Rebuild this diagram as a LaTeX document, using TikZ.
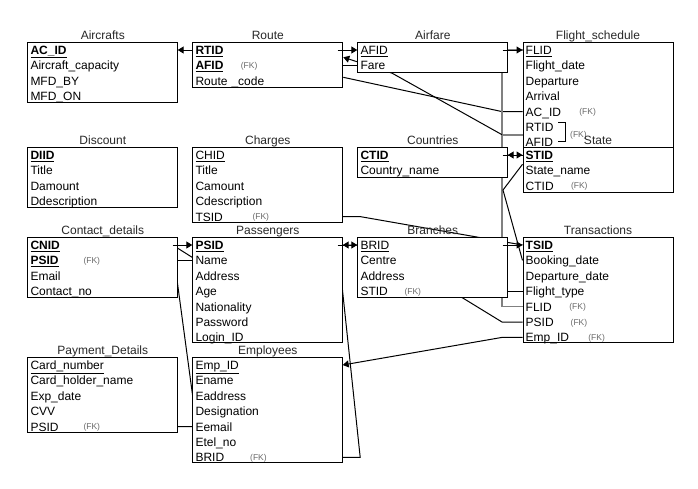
\documentclass[tikz,border=0pt]{standalone}
\usepackage{fontspec}
\setmainfont{Liberation Sans}
\usepackage{tikz}
\usetikzlibrary{positioning}
\usetikzlibrary{calc}
\usetikzlibrary{arrows.meta}

\pgfdeclarelayer{paper}
\pgfdeclarelayer{edges}
\pgfsetlayers{paper,edges,main}

\newcommand{\pk}[1]{\underline{\textbf{#1}}}
\newcommand{\pkn}[1]{\underline{#1}}

\begin{document}
\begin{tikzpicture}[
        x=1pt, y=-1pt,
        font=\fontsize{12}{14}\selectfont,
        box/.style={draw, fill=white, line width=1pt, anchor=north west, minimum width=150pt, inner sep=0pt},
        row/.style={anchor=north west, text width=144pt, inner xsep=3pt, inner ysep=0pt, minimum height=15pt, text height=10.5pt, text depth=1.5pt, align=left},
        title/.style={anchor=base, inner sep=0pt, text=titlegray},
        fk/.style={anchor=west, inner sep=0pt, font=\fontsize{8.5}{10}\selectfont, text=fkgray},
        rel/.style={line width=1pt, -{Triangle[length=6pt,width=7pt]}},
        link/.style={line width=1pt},
        graylink/.style={line width=1.6pt, draw=black!50},
    ]
        \definecolor{titlegray}{RGB}{40,40,40}
        \definecolor{fkgray}{RGB}{105,105,105}

        \useasboundingbox (0,0) rectangle (698,488);
        \begin{pgfonlayer}{paper}
        \fill[white] (0,0) rectangle (698,488);
        \end{pgfonlayer}

        % Aircrafts
        \node[box, minimum height=60pt] (aircrafts) at (27.3,42.3) {};
        \node[title] (aircrafts-title) at ($(aircrafts.north)+(0,-2.5)$) {Aircrafts};
        \node[row] (aircrafts-acid) at (27.3,42.3) {\pk{AC\_ID}};
        \node[row, below=0pt of aircrafts-acid] (aircrafts-cap) {Aircraft\_capacity};
        \node[row, below=0pt of aircrafts-cap] (aircrafts-by) {MFD\_BY};
        \node[row, below=0pt of aircrafts-by] (aircrafts-on) {MFD\_ON};

        % Route
        \node[box, minimum height=45pt] (route) at (192.3,42.3) {};
        \node[title] (route-title) at ($(route.north)+(0,-2.5)$) {Route};
        \node[row] (route-rtid) at (192.3,42.3) {\pk{RTID}};
        \node[row, below=0pt of route-rtid] (route-afid) {\pk{AFID}};
        \node[row, below=0pt of route-afid] (route-code) {Route \_code};
        \node[fk] (route-afid-fk) at ($(route-afid.west)+(48.4,0.8)$) {(FK)};

        % Airfare
        \node[box, minimum height=30pt] (airfare) at (357.3,42.3) {};
        \node[title] (airfare-title) at ($(airfare.north)+(0,-2.5)$) {Airfare};
        \node[row] (airfare-afid) at (357.3,42.3) {\pkn{AFID}};
        \node[row, below=0pt of airfare-afid] (airfare-fare) {Fare};

        % Flight_schedule
        \node[box, minimum height=105pt] (fs) at (522.5,42.3) {};
        \node[title] (fs-title) at ($(fs.north)+(0,-2.5)$) {Flight\_schedule};
        \node[row] (fs-flid) at (522.5,42.3) {\pkn{FLID}};
        \node[row, below=0pt of fs-flid] (fs-date) {Flight\_date};
        \node[row, below=0pt of fs-date] (fs-dep) {Departure};
        \node[row, below=0pt of fs-dep] (fs-arr) {Arrival};
        \node[row, below=0pt of fs-arr] (fs-acid) {AC\_ID};
        \node[row, below=0pt of fs-acid] (fs-rtid) {RTID};
        \node[row, below=0pt of fs-rtid] (fs-afid) {AFID};
        \node[fk] (fs-acid-fk) at ($(fs-acid.west)+(56.6,0.8)$) {(FK)};
        \draw[line width=1pt] ($(fs-rtid.west)+(35.5,-4.5)$) -- ++(7,0) -- ++(0,18.5) -- ++(-7,0);
        \node[fk] (fs-pair-fk) at ($(fs-rtid.west)+(47.5,8)$) {(FK)};

        % Discount
        \node[box, minimum height=60pt] (discount) at (27.3,147.3) {};
        \node[title] (discount-title) at ($(discount.north)+(0,-2.5)$) {Discount};
        \node[row] (discount-diid) at (27.3,147.3) {\pk{DIID}};
        \node[row, below=0pt of discount-diid] (discount-title-row) {Title};
        \node[row, below=0pt of discount-title-row] (discount-amount) {Damount};
        \node[row, below=0pt of discount-amount] (discount-desc) {Ddescription};

        % Charges
        \node[box, minimum height=75pt] (charges) at (192.3,147.3) {};
        \node[title] (charges-title) at ($(charges.north)+(0,-2.5)$) {Charges};
        \node[row] (charges-chid) at (192.3,147.3) {\pkn{CHID}};
        \node[row, below=0pt of charges-chid] (charges-title-row) {Title};
        \node[row, below=0pt of charges-title-row] (charges-amount) {Camount};
        \node[row, below=0pt of charges-amount] (charges-desc) {Cdescription};
        \node[row, below=0pt of charges-desc] (charges-tsid) {TSID};
        \node[fk] (charges-tsid-fk) at ($(charges-tsid.west)+(60,0.8)$) {(FK)};

        % Countries
        \node[box, minimum height=30pt] (countries) at (357.3,147.3) {};
        \node[title] (countries-title) at ($(countries.north)+(0,-2.5)$) {Countries};
        \node[row] (countries-ctid) at (357.3,147.3) {\pk{CTID}};
        \node[row, below=0pt of countries-ctid] (countries-name) {Country\_name};

        % State
        \node[box, minimum height=45pt] (state) at (522.5,147.3) {};
        \node[title] (state-title) at ($(state.north)+(0,-2.5)$) {State};
        \node[row] (state-stid) at (522.5,147.3) {\pk{STID}};
        \node[row, below=0pt of state-stid] (state-name) {State\_name};
        \node[row, below=0pt of state-name] (state-ctid) {CTID};
        \node[fk] (state-ctid-fk) at ($(state-ctid.west)+(48.3,0.8)$) {(FK)};

        % Contact_details
        \node[box, minimum height=60pt] (contact) at (27.3,237.3) {};
        \node[title] (contact-title) at ($(contact.north)+(0,-2.5)$) {Contact\_details};
        \node[row] (contact-cnid) at (27.3,237.3) {\pk{CNID}};
        \node[row, below=0pt of contact-cnid] (contact-psid) {\pk{PSID}};
        \node[row, below=0pt of contact-psid] (contact-email) {Email};
        \node[row, below=0pt of contact-email] (contact-no) {Contact\_no};
        \node[fk] (contact-psid-fk) at ($(contact-psid.west)+(56,0.8)$) {(FK)};

        % Passengers
        \node[box, minimum height=105pt] (pass) at (192.3,237.3) {};
        \node[title] (pass-title) at ($(pass.north)+(0,-2.5)$) {Passengers};
        \node[row] (pass-psid) at (192.3,237.3) {\pk{PSID}};
        \node[row, below=0pt of pass-psid] (pass-name) {Name};
        \node[row, below=0pt of pass-name] (pass-address) {Address};
        \node[row, below=0pt of pass-address] (pass-age) {Age};
        \node[row, below=0pt of pass-age] (pass-nation) {Nationality};
        \node[row, below=0pt of pass-nation] (pass-password) {Password};
        \node[row, below=0pt of pass-password] (pass-login) {Login\_ID};

        % Branches
        \node[box, minimum height=60pt] (branches) at (357.3,237.3) {};
        \node[title] (branches-title) at ($(branches.north)+(0,-2.5)$) {Branches};
        \node[row] (branches-brid) at (357.3,237.3) {\pkn{BRID}};
        \node[row, below=0pt of branches-brid] (branches-centre) {Centre};
        \node[row, below=0pt of branches-centre] (branches-address) {Address};
        \node[row, below=0pt of branches-address] (branches-stid) {STID};
        \node[fk] (branches-stid-fk) at ($(branches-stid.west)+(47,0.8)$) {(FK)};

        % Transactions
        \node[box, minimum height=105pt] (trans) at (522.5,237.3) {};
        \node[title] (trans-title) at ($(trans.north)+(0,-2.5)$) {Transactions};
        \node[row] (trans-tsid) at (522.5,237.3) {\pk{TSID}};
        \node[row, below=0pt of trans-tsid] (trans-booking) {Booking\_date};
        \node[row, below=0pt of trans-booking] (trans-depdate) {Departure\_date};
        \node[row, below=0pt of trans-depdate] (trans-ftype) {Flight\_type};
        \node[row, below=0pt of trans-ftype] (trans-flid) {FLID};
        \node[row, below=0pt of trans-flid] (trans-psid) {PSID};
        \node[row, below=0pt of trans-psid] (trans-emp) {Emp\_ID};
        \node[fk] (trans-flid-fk) at ($(trans-flid.west)+(46.6,0.8)$) {(FK)};
        \node[fk] (trans-psid-fk) at ($(trans-psid.west)+(48,0.8)$) {(FK)};
        \node[fk] (trans-emp-fk) at ($(trans-emp.west)+(65.6,0.8)$) {(FK)};

        % Payment_Details
        \node[box, minimum height=75pt] (pay) at (27.3,357.3) {};
        \node[title] (pay-title) at ($(pay.north)+(0,-2.5)$) {Payment\_Details};
        \node[row] (pay-card) at (27.3,357.3) {\pkn{Card\_number}};
        \node[row, below=0pt of pay-card] (pay-holder) {Card\_holder\_name};
        \node[row, below=0pt of pay-holder] (pay-exp) {Exp\_date};
        \node[row, below=0pt of pay-exp] (pay-cvv) {CVV};
        \node[row, below=0pt of pay-cvv] (pay-psid) {PSID};
        \node[fk] (pay-psid-fk) at ($(pay-psid.west)+(56,0.8)$) {(FK)};

        % Employees
        \node[box, minimum height=105pt] (emp) at (192.3,357.3) {};
        \node[title] (emp-title) at ($(emp.north)+(0,-2.5)$) {Employees};
        \node[row] (emp-id) at (192.3,357.3) {\pkn{Emp\_ID}};
        \node[row, below=0pt of emp-id] (emp-name) {Ename};
        \node[row, below=0pt of emp-name] (emp-address) {Eaddress};
        \node[row, below=0pt of emp-address] (emp-desig) {Designation};
        \node[row, below=0pt of emp-desig] (emp-email) {Eemail};
        \node[row, below=0pt of emp-email] (emp-tel) {Etel\_no};
        \node[row, below=0pt of emp-tel] (emp-brid) {BRID};
        \node[fk] (emp-brid-fk) at ($(emp-brid.west)+(57.7,0.8)$) {(FK)};

        % Edges (under the tables)
        \begin{pgfonlayer}{edges}
        \draw[rel] (route-rtid.west) -- (aircrafts-acid.east);
        \draw[link] (route-afid.east) -- (airfare-fare.west);
        \draw[link] ($(route.east)+(0,12)$) -- ($(fs-acid.west)+(-20.5,0)$) -- (fs-acid.west);
        \draw[graylink] (trans-flid.west) -- ++(-20.5,0) |- (fs-flid.west);
        \coordinate (fs-pair) at ($(fs-rtid.west)!0.5!(fs-afid.west)$);
        \draw[graylink] (fs-pair) -- ++(-20.5,0) coordinate (fs-pair-bend);
        \draw[rel] (fs-pair-bend) -- ($(airfare.south west)+(35,0)$) -- ($(airfare.west)+(0,4)$) -- ($(route.east)+(0,-8)$);
        \draw[rel] (state-stid.west) -- (countries-ctid.east);
        \coordinate (state-bend) at (503,190);
        \draw[link] ($(state.west)+(0,-6)$) -- (state-bend) -- (trans-booking.west);
        \draw[link] (charges-tsid.east) -- ++(17.5,0) -- (trans-tsid.west);
        \draw[link] (branches-stid.east) -- (trans-ftype.west);
        \draw[rel] (trans-psid.west) -- ++(-20.5,0) -- ($(branches.south east)+(-45,0)$) -- (branches-brid.west) -- (pass-psid.east);
        \draw[rel] (trans-emp.west) -- ++(-20.5,0) -- (emp-id.east);
        \draw[link] (emp-brid.east) -- ++(17.5,0) -- ($(pass-psid.east)+(-5,0)$);
        \draw[link] (contact-psid.east) -- (pass-name.west);
        \draw[link] (pay-psid.east) -- ++(20,0) -- ($(emp.west)+(0,-17)$) -- ($(contact.east)+(-6,-23)$) -- ($(pass-name.west)+(0,-3)$);
        \end{pgfonlayer}

        % Stubs over the tables
        \draw[rel] ($(route-rtid.east)+(-5,0)$) -- (airfare-afid.west);
        \draw[rel] ($(airfare-afid.east)+(-5,0)$) -- (fs-flid.west);
        \draw[rel] ($(countries-ctid.east)+(-5,0)$) -- (state-stid.west);
        \draw[rel] ($(contact-cnid.east)+(-5,0)$) -- (pass-psid.west);
        \draw[rel] ($(pass-psid.east)+(-5,0)$) -- (branches-brid.west);
        \draw[rel] ($(branches-brid.east)+(-5,0)$) -- (trans-tsid.west);
    \end{tikzpicture}
\end{document}
